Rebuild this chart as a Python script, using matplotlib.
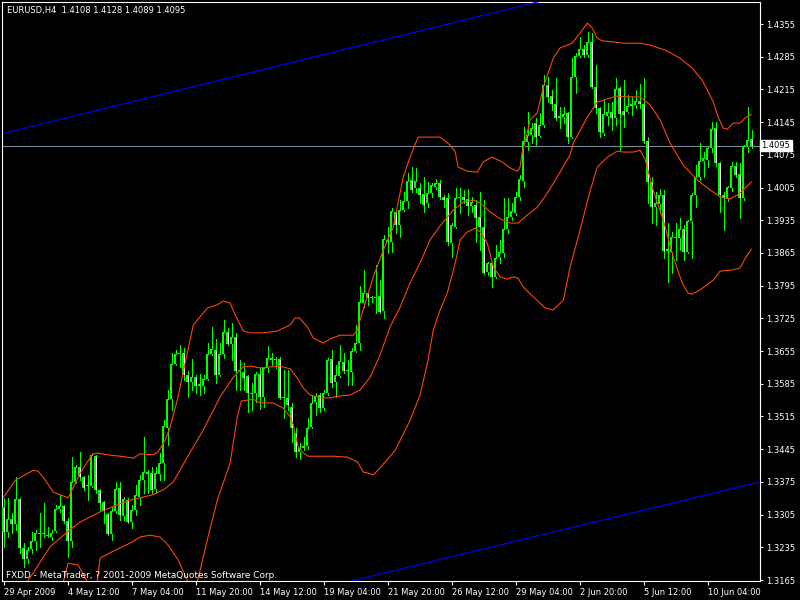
import numpy as np
import matplotlib
matplotlib.use("Agg")
import matplotlib.pyplot as plt

# EURUSD H4 candles (bar 0 = 29 Apr 2009 20:00)
opens = [1.3321, 1.3268, 1.3296, 1.3285, 1.3338, 1.3233, 1.3210, 1.3231, 1.3248, 1.3266,
         1.3263, 1.3261, 1.3257, 1.3270, 1.3317, 1.3323, 1.3291, 1.3248, 1.3375, 1.3407,
         1.3385, 1.3366, 1.3366, 1.3430, 1.3358, 1.3332, 1.3306, 1.3263, 1.3313, 1.3362,
         1.3302, 1.3336, 1.3289, 1.3315, 1.3343, 1.3379, 1.3396, 1.3394, 1.3360, 1.3392,
         1.3415, 1.3490, 1.3552, 1.3627, 1.3649, 1.3651, 1.3604, 1.3589, 1.3599, 1.3580,
         1.3580, 1.3595, 1.3649, 1.3657, 1.3604, 1.3649, 1.3696, 1.3670, 1.3685, 1.3612,
         1.3610, 1.3602, 1.3565, 1.3565, 1.3606, 1.3557, 1.3619, 1.3640, 1.3636, 1.3638,
         1.3557, 1.3555, 1.3535, 1.3480, 1.3439, 1.3448, 1.3452, 1.3492, 1.3546, 1.3561,
         1.3533, 1.3565, 1.3638, 1.3589, 1.3602, 1.3632, 1.3612, 1.3610, 1.3655, 1.3672,
         1.3758, 1.3779, 1.3769, 1.3771, 1.3773, 1.3741, 1.3893, 1.3888, 1.3953, 1.3925,
         1.3957, 1.3976, 1.4021, 1.4004, 1.4004, 1.3991, 1.3972, 1.3993, 1.4006, 1.4015,
         1.3985, 1.3983, 1.3886, 1.3921, 1.3983, 1.3985, 1.3981, 1.3966, 1.3968, 1.3942,
         1.3921, 1.3824, 1.3844, 1.3814, 1.3856, 1.3865, 1.3916, 1.3942, 1.3951, 1.3985,
         1.4019, 1.4102, 1.4117, 1.4143, 1.4115, 1.4139, 1.4225, 1.4201, 1.4184, 1.4154,
         1.4156, 1.4165, 1.4113, 1.4242, 1.4287, 1.4302, 1.4289, 1.4317, 1.4220, 1.4175,
         1.4122, 1.4158, 1.4167, 1.4154, 1.4218, 1.4169, 1.4167, 1.4180, 1.4182, 1.4190,
         1.4184, 1.4105, 1.4017, 1.3963, 1.3970, 1.3989, 1.3869, 1.3867, 1.3899, 1.3897,
         1.3916, 1.3867, 1.3933, 1.3989, 1.4028, 1.4062, 1.4064, 1.4090, 1.4132, 1.4058,
         1.3989, 1.3981, 1.4004, 1.4051, 1.4034, 1.3983, 1.4092, 1.4108]
highs = [1.3341, 1.3341, 1.3308, 1.3385, 1.3340, 1.3244, 1.3236, 1.3268, 1.3272, 1.3308,
         1.3330, 1.3278, 1.3272, 1.3326, 1.3347, 1.3325, 1.3298, 1.3428, 1.3411, 1.3439,
         1.3387, 1.3390, 1.3437, 1.3432, 1.3360, 1.3334, 1.3308, 1.3321, 1.3375, 1.3375,
         1.3343, 1.3341, 1.3326, 1.3368, 1.3390, 1.3471, 1.3400, 1.3407, 1.3407, 1.3437,
         1.3507, 1.3572, 1.3651, 1.3657, 1.3668, 1.3662, 1.3612, 1.3638, 1.3604, 1.3606,
         1.3604, 1.3672, 1.3707, 1.3681, 1.3672, 1.3722, 1.3704, 1.3715, 1.3694, 1.3636,
         1.3629, 1.3604, 1.3587, 1.3610, 1.3619, 1.3619, 1.3666, 1.3651, 1.3642, 1.3642,
         1.3614, 1.3614, 1.3544, 1.3490, 1.3458, 1.3471, 1.3512, 1.3561, 1.3565, 1.3565,
         1.3572, 1.3640, 1.3657, 1.3625, 1.3668, 1.3651, 1.3636, 1.3662, 1.3711, 1.3794,
         1.3829, 1.3781, 1.3773, 1.3839, 1.3807, 1.3903, 1.3921, 1.3961, 1.3957, 1.3978,
         1.3995, 1.4036, 1.4049, 1.4047, 1.4015, 1.4028, 1.4017, 1.4015, 1.4023, 1.4021,
         1.3989, 1.3993, 1.3929, 1.4004, 1.4004, 1.4000, 1.4002, 1.3985, 1.3978, 1.3995,
         1.3978, 1.3846, 1.3846, 1.3882, 1.3893, 1.3983, 1.3983, 1.3972, 1.3995, 1.4032,
         1.4135, 1.4167, 1.4143, 1.4154, 1.4165, 1.4246, 1.4242, 1.4214, 1.4240, 1.4177,
         1.4177, 1.4167, 1.4282, 1.4293, 1.4327, 1.4310, 1.4338, 1.4336, 1.4267, 1.4177,
         1.4192, 1.4186, 1.4188, 1.4240, 1.4220, 1.4235, 1.4203, 1.4199, 1.4214, 1.4227,
         1.4240, 1.4113, 1.4028, 1.3995, 1.4002, 1.4000, 1.3929, 1.3910, 1.3929, 1.3940,
         1.3925, 1.3936, 1.3993, 1.4053, 1.4100, 1.4081, 1.4092, 1.4145, 1.4145, 1.4060,
         1.3995, 1.4008, 1.4060, 1.4060, 1.4058, 1.4096, 1.4177, 1.4128]
lows = [1.3236, 1.3257, 1.3266, 1.3272, 1.3223, 1.3193, 1.3201, 1.3223, 1.3229, 1.3236,
        1.3257, 1.3257, 1.3251, 1.3268, 1.3311, 1.3287, 1.3214, 1.3236, 1.3373, 1.3379,
        1.3358, 1.3336, 1.3364, 1.3351, 1.3315, 1.3287, 1.3261, 1.3251, 1.3308, 1.3293,
        1.3293, 1.3287, 1.3276, 1.3304, 1.3326, 1.3351, 1.3351, 1.3351, 1.3351, 1.3379,
        1.3379, 1.3454, 1.3529, 1.3625, 1.3621, 1.3593, 1.3557, 1.3572, 1.3565, 1.3561,
        1.3565, 1.3593, 1.3647, 1.3587, 1.3602, 1.3640, 1.3668, 1.3636, 1.3572, 1.3572,
        1.3572, 1.3525, 1.3529, 1.3546, 1.3531, 1.3535, 1.3610, 1.3625, 1.3619, 1.3553,
        1.3512, 1.3529, 1.3460, 1.3428, 1.3424, 1.3443, 1.3446, 1.3490, 1.3518, 1.3525,
        1.3529, 1.3561, 1.3578, 1.3557, 1.3599, 1.3608, 1.3582, 1.3582, 1.3653, 1.3657,
        1.3749, 1.3754, 1.3760, 1.3736, 1.3736, 1.3726, 1.3865, 1.3867, 1.3908, 1.3899,
        1.3955, 1.3961, 1.3995, 1.3995, 1.3972, 1.3953, 1.3963, 1.3985, 1.4002, 1.3981,
        1.3963, 1.3882, 1.3856, 1.3918, 1.3951, 1.3972, 1.3946, 1.3953, 1.3888, 1.3871,
        1.3820, 1.3818, 1.3792, 1.3812, 1.3844, 1.3856, 1.3908, 1.3936, 1.3946, 1.3978,
        1.4006, 1.4085, 1.4100, 1.4096, 1.4113, 1.4135, 1.4188, 1.4171, 1.4150, 1.4132,
        1.4143, 1.4100, 1.4111, 1.4207, 1.4285, 1.4285, 1.4285, 1.4218, 1.4165, 1.4113,
        1.4117, 1.4139, 1.4128, 1.4139, 1.4085, 1.4135, 1.4165, 1.4160, 1.4175, 1.4175,
        1.4100, 1.3972, 1.3929, 1.3925, 1.3951, 1.3854, 1.3803, 1.3822, 1.3850, 1.3871,
        1.3850, 1.3865, 1.3854, 1.3963, 1.4021, 1.4028, 1.4049, 1.4081, 1.4051, 1.3953,
        1.3914, 1.3976, 1.3998, 1.4028, 1.3940, 1.3978, 1.4081, 1.4089]
closes = [1.3268, 1.3296, 1.3285, 1.3338, 1.3233, 1.3210, 1.3229, 1.3248, 1.3266, 1.3263,
          1.3266, 1.3259, 1.3266, 1.3317, 1.3323, 1.3291, 1.3248, 1.3375, 1.3407, 1.3385,
          1.3362, 1.3368, 1.3433, 1.3358, 1.3330, 1.3313, 1.3263, 1.3313, 1.3360, 1.3304,
          1.3338, 1.3289, 1.3315, 1.3347, 1.3379, 1.3396, 1.3392, 1.3358, 1.3394, 1.3415,
          1.3495, 1.3552, 1.3627, 1.3649, 1.3651, 1.3604, 1.3589, 1.3599, 1.3580, 1.3585,
          1.3595, 1.3649, 1.3659, 1.3604, 1.3649, 1.3696, 1.3670, 1.3685, 1.3612, 1.3614,
          1.3597, 1.3565, 1.3563, 1.3606, 1.3557, 1.3619, 1.3640, 1.3636, 1.3638, 1.3555,
          1.3555, 1.3540, 1.3490, 1.3439, 1.3448, 1.3452, 1.3490, 1.3544, 1.3559, 1.3533,
          1.3565, 1.3636, 1.3587, 1.3604, 1.3634, 1.3612, 1.3614, 1.3655, 1.3672, 1.3760,
          1.3779, 1.3769, 1.3771, 1.3769, 1.3739, 1.3895, 1.3888, 1.3955, 1.3925, 1.3957,
          1.3976, 1.4019, 1.4000, 1.4019, 1.3989, 1.3968, 1.3993, 1.4010, 1.4015, 1.3985,
          1.3978, 1.3888, 1.3925, 1.3983, 1.3985, 1.3978, 1.3966, 1.3974, 1.3940, 1.3921,
          1.3822, 1.3844, 1.3814, 1.3854, 1.3867, 1.3916, 1.3942, 1.3955, 1.3985, 1.4023,
          1.4105, 1.4117, 1.4132, 1.4113, 1.4139, 1.4225, 1.4199, 1.4184, 1.4154, 1.4158,
          1.4162, 1.4113, 1.4242, 1.4287, 1.4302, 1.4289, 1.4317, 1.4220, 1.4175, 1.4124,
          1.4162, 1.4167, 1.4154, 1.4216, 1.4162, 1.4160, 1.4180, 1.4184, 1.4190, 1.4184,
          1.4105, 1.4017, 1.3963, 1.3972, 1.3989, 1.3869, 1.3873, 1.3899, 1.3897, 1.3916,
          1.3867, 1.3933, 1.3989, 1.4028, 1.4062, 1.4068, 1.4090, 1.4130, 1.4058, 1.3989,
          1.3983, 1.4006, 1.4051, 1.4032, 1.3983, 1.4094, 1.4107, 1.4095]

# Bollinger bands (20, 2) as drawn on the chart, sampled at bar positions
upper_x = [0, 3, 7.4, 8.6, 9.9, 12.4, 16.1, 17.1, 19.1, 22.1, 23.4, 25.9, 29.1, 32.4, 34.1,
           37.4, 38.6, 40.4, 41.6, 43.4, 45.9, 47.4, 50.9, 53.4, 54.9, 56.6, 57.9, 59.9, 61.6,
           64.9, 68.4, 71.6, 72.9, 73.9, 75.9, 77.4, 79.9, 81.6, 84.1, 87.4, 88.4, 89.1, 92.4,
           94.9, 97.4, 99.9, 101.6, 103.6, 109.1, 111.6, 112.9, 113.6, 115.9, 118.4, 119.9,
           122.1, 124.6, 126.6, 128.4, 129.1, 129.6, 130.9, 131.6, 133.4, 134.9, 137.4, 139.1,
           142.1, 144.1, 145.9, 147.1, 148.4, 149.6, 152.4, 154.9, 159.1, 161.6, 165.4, 169.1,
           172.1, 174.6, 175.9, 177.4, 178.6, 179.9, 180.9, 182.4, 184.1, 185.4, 186.9]
upper = [1.3343, 1.3379, 1.3400, 1.3398, 1.3385, 1.3353, 1.3341, 1.3358, 1.3394, 1.3433,
         1.3437, 1.3433, 1.3430, 1.3426, 1.3435, 1.3433, 1.3439, 1.3465, 1.3492, 1.3550,
         1.3651, 1.3711, 1.3747, 1.3754, 1.3762, 1.3758, 1.3732, 1.3698, 1.3694, 1.3694,
         1.3698, 1.3711, 1.3726, 1.3726, 1.3707, 1.3683, 1.3672, 1.3681, 1.3689, 1.3689,
         1.3700, 1.3722, 1.3814, 1.3871, 1.3921, 1.4028, 1.4070, 1.4113, 1.4113, 1.4096,
         1.4081, 1.4049, 1.4040, 1.4038, 1.4060, 1.4070, 1.4060, 1.4047, 1.4040, 1.4049,
         1.4079, 1.4122, 1.4150, 1.4165, 1.4220, 1.4282, 1.4304, 1.4314, 1.4336, 1.4357,
         1.4347, 1.4325, 1.4319, 1.4317, 1.4314, 1.4314, 1.4310, 1.4299, 1.4282, 1.4261,
         1.4235, 1.4214, 1.4188, 1.4156, 1.4132, 1.4130, 1.4143, 1.4143, 1.4154, 1.4162]

middle_x = [5.9, 11.6, 15.9, 19.1, 24.1, 28.4, 31.6, 37.1, 39.9, 42.4, 45.9, 49.9, 54.1, 57.4,
            59.9, 61.6, 64.1, 66.6, 69.1, 71.6, 73.4, 74.9, 76.6, 79.1, 81.6, 84.1, 86.6,
            89.1, 91.6, 94.1, 96.6, 99.1, 101.6, 104.1, 106.6, 109.1, 112.4, 114.9, 117.4,
            119.1, 121.6, 124.1, 126.6, 128.6, 130.9, 133.4, 135.9, 138.4, 141.6, 142.4, 145.9,
            148.4, 150.9, 153.4, 155.9, 159.1, 161.6, 164.1, 166.6, 169.9, 173.4, 176.6, 179.1,
            181.6, 183.4, 184.9, 186.9]
middle = [1.3161, 1.3236, 1.3268, 1.3289, 1.3311, 1.3326, 1.3336, 1.3347, 1.3358, 1.3375,
          1.3428, 1.3486, 1.3557, 1.3599, 1.3621, 1.3623, 1.3619, 1.3621, 1.3623, 1.3617,
          1.3597, 1.3576, 1.3561, 1.3555, 1.3555, 1.3559, 1.3561, 1.3572, 1.3599, 1.3647,
          1.3707, 1.3749, 1.3801, 1.3844, 1.3893, 1.3923, 1.3957, 1.3974, 1.3978, 1.3972,
          1.3953, 1.3938, 1.3929, 1.3929, 1.3946, 1.3963, 1.3993, 1.4028, 1.4075, 1.4100,
          1.4156, 1.4188, 1.4195, 1.4201, 1.4199, 1.4199, 1.4182, 1.4150, 1.4100, 1.4053,
          1.4021, 1.4000, 1.3985, 1.3981, 1.3989, 1.4000, 1.4017]

lower_x = [14.9, 16.1, 18.6, 20.9, 23.4, 24.1, 27.9, 31.6, 34.1, 36.6, 39.1, 41.1, 43.6,
           46.1, 48.4, 50.9, 53.4, 56.6, 58.4, 59.4, 62.4, 64.1, 67.4, 69.9, 71.6, 72.4, 73.6,
           74.9, 76.1, 79.1, 82.4, 85.9, 88.4, 89.9, 91.1, 92.4, 94.1, 97.9, 101.6, 104.1,
           106.1, 107.4, 109.1, 110.9, 112.9, 114.1, 115.9, 117.9, 119.1, 120.9, 122.4, 124.1,
           125.9, 127.4, 128.6, 129.9, 132.4, 135.4, 137.4, 139.9, 141.6, 144.1, 146.6, 148.4,
           150.9, 153.4, 154.9, 157.4, 159.1, 160.4, 162.4, 164.9, 167.4, 169.6, 171.1, 172.1,
           174.1, 177.4, 179.1, 182.4, 184.1, 185.4, 186.9]
lower = [1.3161, 1.3201, 1.3197, 1.3161, 1.3161, 1.3212, 1.3229, 1.3244, 1.3257, 1.3261,
         1.3257, 1.3240, 1.3208, 1.3161, 1.3161, 1.3251, 1.3336, 1.3415, 1.3514, 1.3548,
         1.3552, 1.3544, 1.3544, 1.3533, 1.3514, 1.3497, 1.3450, 1.3437, 1.3430, 1.3430,
         1.3430, 1.3428, 1.3418, 1.3396, 1.3394, 1.3390, 1.3405, 1.3443, 1.3507, 1.3561,
         1.3636, 1.3700, 1.3743, 1.3779, 1.3844, 1.3893, 1.3910, 1.3918, 1.3910, 1.3886,
         1.3835, 1.3814, 1.3809, 1.3814, 1.3811, 1.3792, 1.3771, 1.3747, 1.3743, 1.3764,
         1.3835, 1.3914, 1.3998, 1.4049, 1.4070, 1.4083, 1.4081, 1.4081, 1.4085, 1.4064,
         1.3998, 1.3935, 1.3856, 1.3801, 1.3779, 1.3777, 1.3786, 1.3807, 1.3826, 1.3829,
         1.3833, 1.3854, 1.3873]

# channel lines (bar, price) and current bid
channel_top = ([0.4, 140.0], [1.4122, 1.4416])
channel_bottom = ([85.0, 190.0], [1.3159, 1.3377])
bid = 1.4095

y_ticks = [1.4355, 1.4285, 1.4215, 1.4145, 1.4075, 1.4005, 1.3935, 1.3865, 1.3795,
           1.3725, 1.3655, 1.3585, 1.3515, 1.3445, 1.3375, 1.3305, 1.3235, 1.3165]
x_tick_bars = [0, 16, 32, 48, 64, 80, 96, 112, 128, 144, 160, 176]
x_tick_labels = ["29 Apr 2009", "4 May 12:00", "7 May 04:00", "11 May 20:00", "14 May 12:00",
                 "19 May 04:00", "21 May 20:00", "26 May 12:00", "29 May 04:00", "2 Jun 20:00",
                 "5 Jun 12:00", "10 Jun 04:00"]

plt.rcParams['font.family'] = ['DejaVu Sans']

fig = plt.figure(figsize=(8, 6), dpi=100, facecolor="black")
ax = fig.add_axes([2 / 800, 19 / 600, 758 / 800, 579 / 600])
ax.set_facecolor("black")
ymin, ymax = 1.31629, 1.44022
ax.set_xlim(-0.425, 189.075)
ax.set_ylim(ymin, ymax)
px = (ymax - ymin) / 579  # one screen pixel in price units

o = np.array(opens)
h = np.array(highs)
l = np.array(lows)
c = np.array(closes)
x = np.arange(len(o))

ax.axhline(bid, color="#778899", lw=0.8, zorder=1)

# wicks, lime body block, then 1px inner fill (black = up, white = down)
lime = "#00FF00"
ax.vlines(x, l, h, color=lime, lw=0.72, zorder=2, antialiased=False)
bot = np.minimum(o, c)
top = np.maximum(o, c)
ax.bar(x, np.maximum(top - bot, px), bottom=bot, width=0.75, color=lime,
       linewidth=0, zorder=3, antialiased=False)
inner = (top - bot) > 2.5 * px
fill = np.where(c >= o, "black", "white")
ax.vlines(x[inner], bot[inner] + px, top[inner] - px, colors=fill[inner], lw=0.72,
          zorder=4, antialiased=False)

for bx, by in [(upper_x, upper), (middle_x, middle), (lower_x, lower)]:
    ax.plot(bx, by, color="#FF4500", lw=0.8, zorder=5)

ax.plot(*channel_top, color="#0000FF", lw=0.8, zorder=5)
ax.plot(*channel_bottom, color="#0000FF", lw=0.8, zorder=5)

for s in ax.spines.values():
    s.set_color("white")
    s.set_linewidth(0.8)

ax.yaxis.tick_right()
ax.set_yticks(y_ticks)
ax.set_yticklabels([f"{v:.4f}" for v in y_ticks])
ax.tick_params(axis="y", colors="white", length=2.5, width=0.8, pad=2, labelsize=6)
ax.set_xticks(x_tick_bars)
ax.set_xticklabels(x_tick_labels, ha="left")
ax.tick_params(axis="x", colors="white", length=3, width=0.8, pad=2, labelsize=6)

ax.text(1.002, bid, f"{bid:.4f}", transform=ax.get_yaxis_transform(), fontsize=6,
        color="black", va="center", ha="left",
        bbox=dict(boxstyle="square,pad=0.15", fc="white", ec="white"))

fig.text(7 / 800, 1 - 10 / 600, "EURUSD,H4  1.4108 1.4128 1.4089 1.4095",
         color="white", fontsize=6, va="center", ha="left")
fig.text(6 / 800, 1 - 575 / 600, "FXDD - MetaTrader, ? 2001-2009 MetaQuotes Software Corp.",
         color="white", fontsize=6.4, va="center", ha="left")

fig.savefig("out.png", dpi=100, facecolor="black")
